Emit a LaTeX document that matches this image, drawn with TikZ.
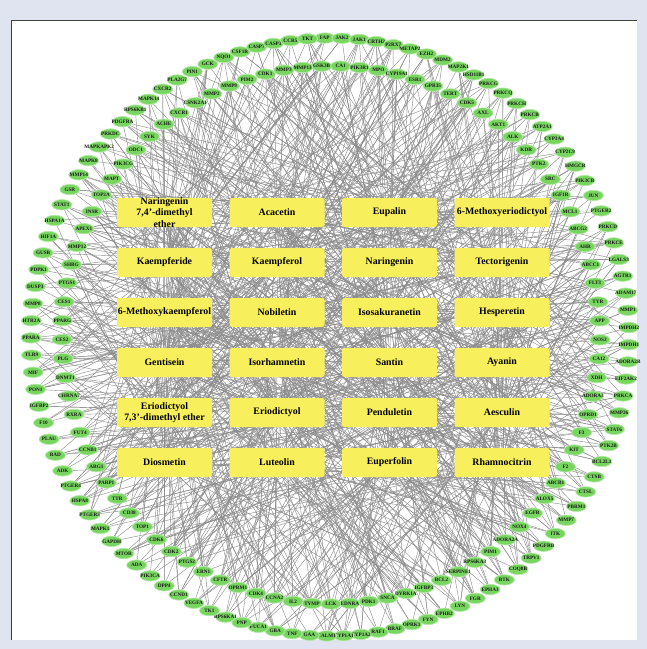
\documentclass[tikz,border=0pt]{standalone}
\usepackage{fontspec}
\setmainfont{Liberation Serif}
\usetikzlibrary{shapes.geometric,backgrounds}
\definecolor{tgtgreen}{RGB}{120,214,96}
\definecolor{cmpdyellow}{RGB}{247,239,92}
\definecolor{panelbg}{RGB}{224,228,241}

\begin{document}
\begin{tikzpicture}[x=0.25mm,y=-0.25mm,
    tgt/.style={ellipse,fill=tgtgreen,draw=tgtgreen!55,line width=0.5pt,
      minimum width=5mm,minimum height=2.6mm,inner sep=0pt,
      label={[tgttxt]center:#1}},
    tgttxt/.style={font=\fontsize{3.7}{4}\selectfont\bfseries,text=black!90,inner sep=0pt},
    cmpd/.style={rectangle,rounded corners=0.6mm,fill=cmpdyellow,
      minimum width=23.75mm,minimum height=7.25mm,inner sep=0pt,
      label={[cmpdtxt]center:#1}},
    cmpdtxt/.style={font=\fontsize{7}{8}\selectfont\bfseries,align=center,inner sep=0pt},
    edge/.style={black!45,line width=0.3pt}]
    \useasboundingbox (0,0) rectangle (647,649);
    % Forbindelser (compounds) i gitter
    \foreach \nm [count=\k] in {{Naringenin\\7,4'-dimethyl\\ether},Acacetin,Eupalin,6-Methoxyeriodictyol,
        Kaempferide,Kaempferol,Naringenin,Tectorigenin,
        6-Methoxykaempferol,Nobiletin,Isosakuranetin,Hesperetin,
        Gentisein,Isorhamnetin,Santin,Ayanin,
        {Eriodictyol\\7,3'-dimethyl ether},Eriodictyol,Penduletin,Aesculin,
        Diosmetin,Luteolin,Euperfolin,Rhamnocitrin}{
      \pgfmathtruncatemacro{\cc}{mod(\k-1,4)}
      \pgfmathtruncatemacro{\rr}{(\k-1)/4}
      \node[cmpd=\nm] (c\k) at ({164.5+112.5*\cc},{212.5+50*\rr}) {};
    }
    % Ydre ring af targets
    \foreach \nm [count=\k] in {FAP,JAK2,JAK1,CRTH2,P2RX7,METAP2,EZH2,MDM2,MAP2K1,HSD11B1,
        PRKCG,PRKCQ,PRKCH,PRKCB,ATP2A1,CYP3A4,CYP2C9,HMGCR,PIK3CB,JUN,PTGER2,PRKCD,PRKCE,
        LGALS3,AGTR1,ADAM17,MMP1,IMPDH2,IMPDH1,ADORA2B,EIF2AK2,PRKCA,MMP26,STAT6,PTK2B,
        BCL2L1,CTSB,CTSL,PBRM1,MMP7,ITK,PDGFRB,TRPV1,COQ8B,BTK,EPHA3,FGR,LYN,EPHB2,FYN,
        OPRK1,BRAF,RAF1,CYP1A2,CYP1A1,CALM1,GAA,TNF,GBA,FUCA1,PNP,RPS6KA1,TK1,VEGFA,CCND1,
        DPP4,PIK3CA,ADA,MTOR,GAPDH,MAPK1,PTGER3,HSPA8,PTGER4,ADK,BAD,PLAU,F10,IGFBP2,PON1,
        MIF,TLR9,PPARA,HTR2A,MMP8,DUSP3,PDPK1,GUSB,HIF1A,HSPA1A,STAT1,GSR,MMP14,MAPK8,
        MAPKAPK2,PRKDC,PDGFRA,RPS6KB1,MAPK14,CXCR2,PLA2G7,PIN1,GCK,NQO1,CSF1R,CASP7,CASP3,
        CCR5,TKT}{
      \pgfmathsetmacro{\a}{91-(\k-1)*(360/109)}
      \node[tgt=\nm] (o\k) at ({330+299*cos(\a)},{337-299*sin(\a)}) {};
    }
    % Indre ring af targets
    \foreach \nm [count=\k] in {GSK3B,CA1,PIK3R1,MPO,CYP19A1,ESR1,GPR35,TERT,CDK5,AXL,AKT1,
        ALK,KDR,PTK2,SRC,IGF1R,MCL1,ABCG2,AHR,ABCC1,FLT3,TYR,APP,NOS2,CA12,XDH,ADORA3,
        OPRD1,F3,KIT,F2,ABCB1,ALOX5,EGFR,NOX4,ADORA2A,PIM1,RPS6KA3,SERPINE1,BCL2,IGFBP3,
        DYRK1A,SNCA,PDK1,EDNRA,LCK,TYMP,IL2,CCNA2,CDK4,OPRM1,CFTR,ERN1,PTGS2,CDK2,CDK6,
        TOP1,CD38,TTR,PARP1,ARG1,CCNB1,FUT4,RXRA,CHRNA7,DNMT1,PLG,CES2,PPARG,CES1,PTGS1,
        SHBG,MMP12,APEX1,INSR,TOP2A,MAPT,PIK3CG,ODC1,SYK,ACHE,CXCR1,CSNK2A1,MMP2,MMP9,
        PIM2,CDK1,MMP3,MMP13}{
      \pgfmathsetmacro{\a}{92-(\k-1)*(360/89)}
      \node[tgt=\nm] (i\k) at ({331+269*cos(\a)},{335-269*sin(\a)}) {};
    }
    \begin{pgfonlayer}{background}
      % Ramme
      \fill[panelbg] (0,0) rectangle (647,649);
      \fill[white] (11.5,20) rectangle (637,640);
      \draw[black!75,line width=0.7pt] (11.5,640) -- (11.5,20) -- (637,20);
      % Kanter compound -> target
      \pgfmathsetseed{4711}
      \foreach \k in {1,...,109}{
        \pgfmathrandominteger{\d}{3}{7}
        \foreach \m in {1,...,\d}{
          \pgfmathrandominteger{\c}{1}{24}
          \draw[edge] (o\k) -- (c\c);
        }
      }
      \foreach \k in {1,...,89}{
        \pgfmathrandominteger{\d}{4}{9}
        \foreach \m in {1,...,\d}{
          \pgfmathrandominteger{\c}{1}{24}
          \draw[edge] (i\k) -- (c\c);
        }
      }
    \end{pgfonlayer}
  \end{tikzpicture}
\end{document}
